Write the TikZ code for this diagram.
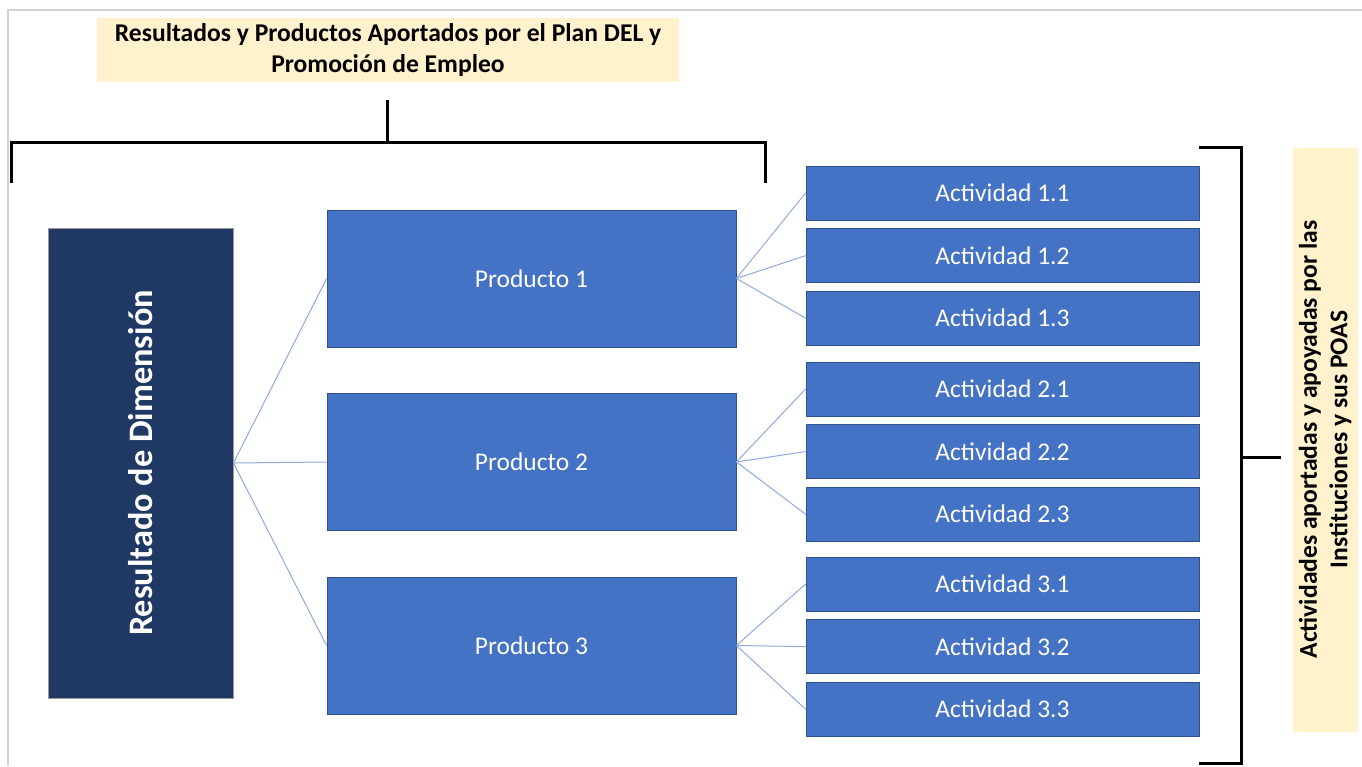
\documentclass[tikz,border=0pt]{standalone}
\usepackage{fontspec}
\setmainfont{Carlito}
\usepackage{graphicx}
\usetikzlibrary{positioning}

\definecolor{navyres}{HTML}{203864}
\definecolor{blueprod}{HTML}{4472C4}
\definecolor{blueedge}{HTML}{2F528F}
\definecolor{paleyellow}{HTML}{FFF2CC}
\definecolor{linkblue}{HTML}{8FAADC}

\begin{document}
\begin{tikzpicture}[
        x=1pt, y=1pt,
        resbox/.style={rectangle, draw=gray!80, line width=1pt, fill=navyres, text=white, minimum width=185pt, minimum height=470pt, inner sep=0pt, font=\fontsize{34.3}{40}\selectfont\bfseries},
        prodbox/.style={rectangle, draw=blueedge, line width=0.8pt, fill=blueprod, text=white, minimum width=409pt, minimum height=137pt, inner sep=0pt, font=\fontsize{25.5}{30}\selectfont},
        actbox/.style={prodbox, minimum width=393pt, minimum height=54pt},
        notebox/.style={rectangle, fill=paleyellow, inner sep=0pt, align=center, font=\fontsize{25.6}{30.5}\selectfont\bfseries},
        link/.style={draw=linkblue, line width=1pt},
        bracket/.style={draw=black, line width=3pt},
        frameline/.style={draw=gray!35, line width=1.5pt}
    ]
    \useasboundingbox (0,0) rectangle (1362,-766);

    % --- Frame ---
    \draw[frameline] (8,-766) -- (8,-10) -- (1362,-10);

    % --- Core Nodes ---
    \node[resbox] (resultado) at (140.5,-463) {\rotatebox{90}{Resultado de Dimensión}};

    \node[prodbox] (p1) at (531.5,-278.5) {Producto 1};
    \node[prodbox] (p2) at (531.5,-462) {Producto 2};
    \node[prodbox] (p3) at (531.5,-645.5) {Producto 3};

    % --- Activities, three per product ---
    \foreach \g/\y in {1/-193, 2/-389, 3/-584} {
        \node[actbox] (a\g1) at (1002.5,\y) {Actividad \g.1};
        \node[actbox, below=7.8pt of a\g1] (a\g2) {Actividad \g.2};
        \node[actbox, below=7.8pt of a\g2] (a\g3) {Actividad \g.3};
    }

    % --- Labels ---
    \node[notebox, minimum width=582pt, minimum height=64pt] (titulo) at (388,-50) {Resultados y Productos Aportados por el Plan DEL y\\Promoción de Empleo};
    \node[notebox, rotate=90, minimum width=584pt, minimum height=65pt] (lateral) at (1325,-439.5) {Actividades aportadas y apoyadas por las\\Instituciones y sus POAS};

    % --- Connections ---
    \foreach \p in {1,2,3}
        \draw[link] (resultado.east) -- (p\p.west);
    \foreach \g in {1,2,3}
        \foreach \k in {1,2,3}
            \draw[link] (p\g.east) -- (a\g\k.west);

    % --- Brackets ---
    \draw[bracket] (387,-100) -- (387,-142);
    \draw[bracket] (11,-183) -- (11,-142) -- (765,-142) -- (765,-183);
    \draw[bracket] (1199,-147) -- (1241,-147) -- (1241,-763) -- (1199,-763);
    \draw[bracket] (1241,-457) -- (1281,-457);

\end{tikzpicture}
\end{document}
